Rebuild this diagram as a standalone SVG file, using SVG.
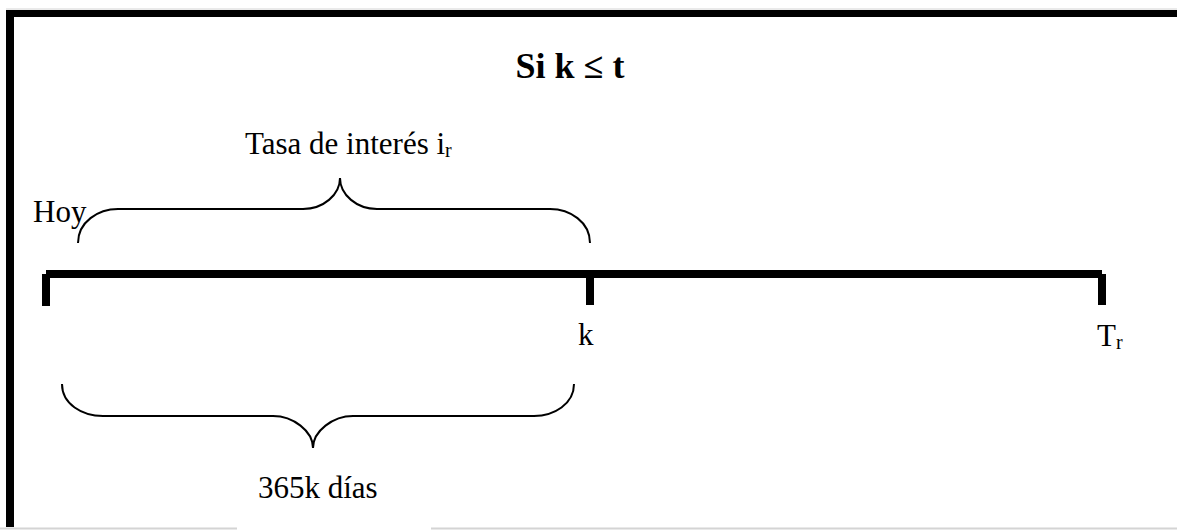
<svg xmlns="http://www.w3.org/2000/svg" width="1177" height="530" viewBox="0 0 1177 530">
<style>
.t{font-family:'Liberation Serif','DejaVu Serif',serif;font-size:31px;fill:#000}
.b{font-weight:bold;font-size:36px}
.sub{font-size:20px}
.brace{fill:none;stroke:#000;stroke-width:2}
.axis{stroke:#000;stroke-width:8;fill:none}
.grey{stroke:#d4d4d4;fill:none}
</style>
<rect x="0" y="0" width="1177" height="530" fill="#fff"/>
<g id="frame">
<line class="grey" x1="6" y1="9" x2="1177" y2="9" stroke-width="1"/>
<line class="grey" x1="0" y1="528.5" x2="237" y2="528.5" stroke-width="2"/>
<line class="grey" x1="431" y1="528.5" x2="1177" y2="528.5" stroke-width="2"/>
<rect x="6" y="10" width="1171" height="7" fill="#000"/>
<rect x="6" y="10" width="8" height="517" fill="#000"/>
</g>
<g id="title">
<text class="t b" x="570" y="78" text-anchor="middle">Si k ≤ t</text>
</g>
<g id="timeline">
<line class="axis" x1="46" y1="274" x2="1102" y2="274"/>
<line class="axis" x1="46" y1="274" x2="46" y2="306"/>
<line class="axis" x1="590" y1="274" x2="590" y2="305"/>
<line class="axis" x1="1102" y1="274" x2="1102" y2="305"/>
</g>
<g id="hoy"><text class="t" x="33" y="222">Hoy</text></g>
<g id="k"><text class="t" x="578" y="345">k</text></g>
<g id="Tr"><text class="t" x="1097" y="346">T<tspan class="sub" dy="3">r</tspan></text></g>
<g id="upper-brace">
<path class="brace" d="M78,243 C78,222 98,209 118,209 L303,209 C323,209 340,195 340,178 C340,195 357,209 377,209 L550,209 C570,209 590,222 590,243"/>
<text class="t" x="245" y="154">Tasa de interés i<tspan class="sub" dy="3">r</tspan></text>
</g>
<g id="lower-brace">
<path class="brace" d="M62,384 C62,404 82,416 103,416 L273,416 C293,416 313,431 313,448 C313,431 333,416 353,416 L534,416 C554,416 574,404 574,384"/>
<text class="t" x="258" y="498">365k días</text>
</g>
</svg>
